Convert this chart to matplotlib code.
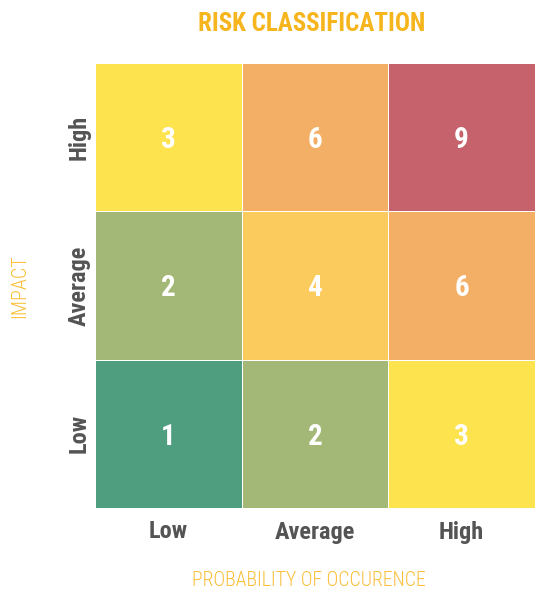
import numpy as np
import matplotlib
matplotlib.use('Agg')
import matplotlib.pyplot as plt
from matplotlib.colors import ListedColormap, BoundaryNorm

plt.rcParams['font.family'] = ['Roboto Condensed', 'Roboto', 'DejaVu Sans']

levels = ['Low', 'Average', 'High']
# rows: impact Low -> High, cols: probability Low -> High
scores = np.array([[1, 2, 3],
                   [2, 4, 6],
                   [3, 6, 9]])
score_vals = [1, 2, 3, 4, 6, 9]
score_cols = ['#4e9e7f', '#a3b877', '#fde34d', '#fbcb5e', '#f4af66', '#c6626b']

cmap = ListedColormap(score_cols)
norm = BoundaryNorm([0.5, 1.5, 2.5, 3.5, 5, 7.5, 9.5], cmap.N)

fig = plt.figure(figsize=(5.35, 5.92), dpi=100)
ax = fig.add_axes([95/535, 84/592, 440/535, 445/592])
ax.pcolormesh(np.arange(4), np.arange(4), scores, cmap=cmap, norm=norm,
              edgecolors='white', linewidth=0.4)
for i in range(3):
    for j in range(3):
        ax.text(j + 0.5, i + 0.5, str(scores[i, j]), ha='center', va='center_baseline',
                color='white', fontsize=21, fontweight='bold')

ax.set_xlim(0, 3)
ax.set_ylim(0, 3)
ax.set_xticks(np.arange(3) + 0.5)
ax.set_yticks(np.arange(3) + 0.5)
ax.set_xticklabels(levels, fontsize=17.5, fontweight='bold', color='#545454')
ax.set_yticklabels(levels, fontsize=17.5, fontweight='bold', color='#545454',
                   rotation=90, va='center')
ax.tick_params(axis='x', length=0, pad=9)
ax.tick_params(axis='y', length=0, pad=3)
for s in ax.spines.values():
    s.set_visible(False)

fig.text(309/535, 1 - 580/592, 'PROBABILITY OF OCCURENCE', ha='center', va='center',
         fontsize=14.2, fontweight='light', color='#fbbf3a')
fig.text(20/535, 1 - 286/592, 'IMPACT', ha='center', va='center', rotation=90,
         fontsize=14.5, fontweight='light', color='#fbbf3a')
fig.text(312/535, 1 - 24/592, 'RISK CLASSIFICATION', ha='center', va='center',
         fontsize=18, fontweight='bold', color='#f6b51c')

fig.savefig('out.png', dpi=100)
